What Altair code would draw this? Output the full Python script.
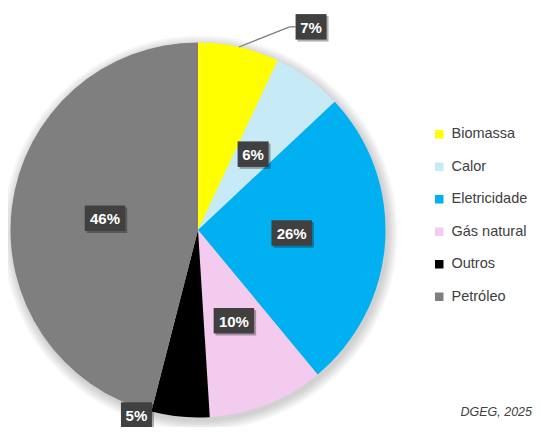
import math
import altair as alt
import pandas as pd

# ---- data ----
categories = ["Biomassa", "Calor", "Eletricidade", "Gás natural", "Outros", "Petróleo"]
shares = [7, 6, 26, 10, 5, 46]
labels = ["7%", "6%", "26%", "10%", "5%", "46%"]
colors = ["#FFFF00", "#C7EAF7", "#00B0F0", "#F2CBEE", "#000000", "#7F7F7F"]
source_note = "DGEG, 2025"

# ---- label placement (fraction of radius, angular shift in degrees) ----
label_radius = [1.24, 0.50, 0.50, 0.52, 1.04, 0.50]
label_shift = [16.5, 0.0, -1.8, 0.0, 13.0, 0.0]

W, H = 525, 419
CX, CY, R = 190.0, 222.0, 187.5
BOX_H = 25.5
HW2, HW3 = 15.5, 20.25  # half widths of label boxes (2 / 3 characters)

xs = alt.Scale(domain=[-CX / R, (W - CX) / R], nice=False, zero=False)
ys = alt.Scale(domain=[(CY - H) / R, CY / R], nice=False, zero=False)
ts = alt.Scale(domain=[0, 100], range=[0, 2 * math.pi])

df = pd.DataFrame({
    "category": categories,
    "share": shares,
    "label": labels,
    "order": list(range(len(categories))),
    "lr": label_radius,
    "ls": label_shift,
})

base = alt.Chart(df).transform_window(
    cum="sum(share)", sort=[alt.SortField("order")], frame=[None, 0]
).transform_joinaggregate(
    total="sum(share)"
).transform_calculate(
    start="datum.cum - datum.share",
    mid0="(datum.cum - datum.share/2) / datum.total * 2 * PI",
).transform_calculate(
    mid="datum.mid0 + datum.ls * PI / 180",
    nchar="length(datum.label)",
).transform_calculate(
    u="datum.lr * sin(datum.mid)",
    v="datum.lr * cos(datum.mid)",
    eu="sin(datum.mid0)",
    ev="cos(datum.mid0)",
    hw=f"(datum.nchar > 2 ? {HW3} : {HW2}) / {R}",
).transform_calculate(
    bu="datum.u - datum.hw",
    ku=f"datum.u - datum.hw - 6 / {R}",
)

cx0 = alt.XDatum(0.0, type="quantitative", scale=xs, axis=None)
cy0 = alt.YDatum(0.0, type="quantitative", scale=ys, axis=None)

# soft shadow under the pie
shadow_layers = []
for k in range(6):
    shadow_layers.append(
        alt.Chart(pd.DataFrame({"k": [k]})).mark_arc(
            outerRadius=R + 1 + k * 1.8, theta=0, theta2=2 * math.pi,
            color="#000000", opacity=0.03,
        ).encode(
            x=alt.XDatum(2.0 / R, type="quantitative", scale=xs, axis=None),
            y=alt.YDatum(-3.0 / R, type="quantitative", scale=ys, axis=None),
        )
    )

pie = base.mark_arc(outerRadius=R, stroke=None).encode(
    theta=alt.Theta("start:Q", scale=ts),
    theta2="cum:Q",
    x=cx0,
    y=cy0,
    color=alt.Color(
        "category:N",
        scale=alt.Scale(domain=categories, range=colors),
        legend=alt.Legend(
            title=None, orient="none", legendX=424, legendY=119, padding=0,
            symbolType="square", symbolSize=72, symbolStrokeWidth=0,
            symbolOpacity=1, labelFontSize=14.5, labelFont="Liberation Sans",
            labelColor="#404040", labelOffset=5, rowPadding=17.5,
        ),
    ),
)

xu = alt.X("u:Q", scale=xs, axis=None)
yv = alt.Y("v:Q", scale=ys, axis=None)

box_paths = alt.Scale(
    domain=[2, 3],
    range=[
        f"M-{HW2 / (BOX_H / 2):.4f},-1H{HW2 / (BOX_H / 2):.4f}V1H-{HW2 / (BOX_H / 2):.4f}Z",
        f"M-{HW3 / (BOX_H / 2):.4f},-1H{HW3 / (BOX_H / 2):.4f}V1H-{HW3 / (BOX_H / 2):.4f}Z",
    ],
)

leader1 = base.transform_filter("datum.lr > 1.15").mark_rule(
    color="#7F7F7F", strokeWidth=1.3
).encode(
    x=alt.X("eu:Q", scale=xs, axis=None), y=alt.Y("ev:Q", scale=ys, axis=None),
    x2="ku:Q", y2="v:Q",
)
leader2 = base.transform_filter("datum.lr > 1.15").mark_rule(
    color="#7F7F7F", strokeWidth=1.3
).encode(
    x=alt.X("ku:Q", scale=xs, axis=None), y=yv, x2="bu:Q",
)

box_shadow = base.mark_point(
    filled=True, opacity=0.3, color="#000000", strokeWidth=0,
    size=BOX_H ** 2, xOffset=2, yOffset=2,
).encode(x=xu, y=yv, shape=alt.Shape("nchar:N", scale=box_paths, legend=None))

box = base.mark_point(
    filled=True, opacity=1, color="#404040", strokeWidth=0, size=BOX_H ** 2,
).encode(x=xu, y=yv, shape=alt.Shape("nchar:N", scale=box_paths, legend=None))

text = base.mark_text(
    color="white", fontWeight="bold", fontSize=15, font="Liberation Sans",
    align="center", baseline="middle", dy=1,
).encode(x=xu, y=yv, text="label:N")

note = alt.Chart(pd.DataFrame({"note": [source_note]})).mark_text(
    fontStyle="italic", fontSize=12.5, font="Liberation Sans", color="#404040",
    align="right", baseline="middle",
).encode(x=alt.value(W - 1), y=alt.value(404), text="note:N")

chart = alt.layer(
    *shadow_layers, pie, leader1, leader2, box_shadow, box, text, note
).properties(
    width=W, height=H, padding=0, autosize=alt.AutoSizeParams(type="none"),
).configure_view(stroke=None)

chart.save("out.html", embed_options={"renderer": "svg", "actions": False})
